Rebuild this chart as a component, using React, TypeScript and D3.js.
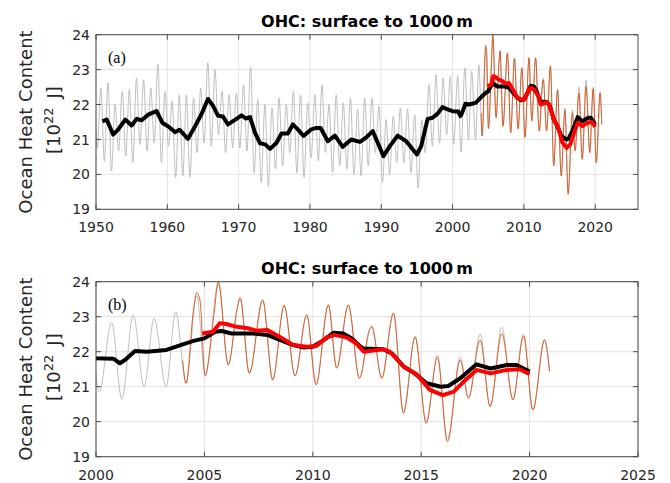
import React from 'react';
import * as d3 from 'd3';

// Monthly OHC (all data), read as annual troughs/peaks [year, 10^22 J]
const grayMonthly: [number, number][] = [
  [1950.0, 21.3], [1950.17, 20.75], [1950.68, 22.47],
  [1951.17, 20.38], [1951.68, 22.62], [1952.17, 20.1], [1952.68, 22.0],
  [1953.17, 20.67], [1953.68, 22.38], [1954.17, 20.53], [1954.68, 22.43],
  [1955.17, 20.34], [1955.68, 22.76], [1956.17, 20.86], [1956.68, 22.71],
  [1957.17, 20.67], [1957.68, 22.47], [1958.17, 20.9], [1958.68, 23.15],
  [1959.17, 20.34], [1959.68, 22.38], [1960.17, 20.81], [1960.68, 22.1],
  [1961.17, 19.91], [1961.68, 22.28], [1962.17, 19.96], [1962.68, 22.28],
  [1963.17, 19.91], [1963.68, 22.19], [1964.17, 20.62], [1964.68, 22.47],
  [1965.17, 20.9], [1965.68, 23.2], [1966.17, 20.81], [1966.68, 23.0],
  [1967.17, 21.14], [1967.68, 22.38], [1968.17, 20.62], [1968.68, 22.28],
  [1969.17, 20.76], [1969.68, 22.33], [1970.17, 20.76], [1970.68, 22.57],
  [1971.17, 20.67], [1971.68, 23.08], [1972.17, 20.05], [1972.68, 22.14],
  [1973.17, 19.77], [1973.68, 22.0], [1974.17, 19.67], [1974.68, 21.9],
  [1975.17, 20.15], [1975.68, 22.19], [1976.17, 20.24], [1976.68, 22.0],
  [1977.17, 20.62], [1977.68, 22.38], [1978.17, 20.05], [1978.68, 22.28],
  [1979.17, 19.91], [1979.68, 22.05], [1980.17, 20.48], [1980.68, 22.28],
  [1981.17, 20.38], [1981.68, 22.57], [1982.17, 20.62], [1982.68, 22.0],
  [1983.17, 20.05], [1983.68, 22.28], [1984.17, 20.24], [1984.68, 22.05],
  [1985.17, 20.15], [1985.68, 22.19], [1986.17, 20.0], [1986.68, 21.86],
  [1987.17, 19.96], [1987.68, 22.19], [1988.17, 20.24], [1988.68, 22.19],
  [1989.17, 20.62], [1989.68, 21.95], [1990.17, 19.77], [1990.68, 21.57],
  [1991.17, 20.0], [1991.68, 21.66], [1992.17, 20.34], [1992.68, 21.9],
  [1993.17, 20.34], [1993.68, 21.87], [1994.17, 20.05], [1994.68, 21.71],
  [1995.17, 19.62], [1995.68, 21.57], [1996.17, 20.62], [1996.68, 22.57],
  [1997.17, 20.81], [1997.68, 22.85], [1998.17, 20.9], [1998.68, 22.76],
  [1999.17, 21.14], [1999.68, 22.8], [2000.15, 20.86], [2000.72, 22.83],
  [2001.19, 20.64], [2001.72, 23.05], [2002.22, 21.0], [2002.68, 22.95],
  [2003.23, 21.0], [2003.68, 23.14], [2004.15, 21.1], [2004.65, 23.6],
  [2005.03, 21.35], [2005.64, 23.95], [2006.1, 21.65], [2006.65, 23.5],
  [2007.07, 21.4], [2007.69, 23.45], [2008.15, 21.22], [2008.68, 23.3],
  [2009.18, 21.3], [2009.72, 23.05], [2010.15, 21.1], [2010.72, 23.35],
  [2011.1, 21.55], [2011.64, 23.35], [2012.15, 21.25], [2012.72, 22.75],
  [2013.18, 21.25], [2013.72, 23.1], [2014.18, 20.3], [2014.72, 22.45],
  [2015.23, 20.0], [2015.75, 21.9], [2016.21, 19.5], [2016.8, 21.85],
  [2017.18, 20.7], [2017.72, 22.5], [2018.18, 20.45], [2018.72, 22.7],
  [2019.23, 20.65], [2019.72, 22.5], [2020.15, 20.35], [2020.69, 22.35],
  [2020.92, 21.45],
];

// Monthly OHC (Argo period)
const orangeArgo: [number, number][] = [
  [2004.0, 21.75], [2004.15, 21.1], [2004.5, 23.2], [2004.65, 23.69], [2004.8, 23.45],
  [2005.03, 21.31], [2005.45, 23.1], [2005.64, 24.0], [2006.1, 21.62], [2006.5, 23.2],
  [2006.65, 23.54], [2007.07, 21.38], [2007.69, 23.48], [2008.15, 21.19], [2008.68, 23.33],
  [2009.18, 21.31], [2009.72, 23.05], [2010.15, 21.05], [2010.72, 23.33], [2011.1, 21.53],
  [2011.64, 23.33], [2012.15, 21.24], [2012.6, 22.6], [2012.72, 22.71], [2013.18, 21.24],
  [2013.72, 23.1], [2014.18, 20.24], [2014.72, 22.41], [2015.23, 19.95], [2015.75, 21.84],
  [2016.21, 19.43], [2016.8, 21.76], [2017.18, 20.67], [2017.72, 22.33], [2018.18, 20.43],
  [2018.72, 22.52], [2019.23, 20.62], [2019.72, 22.45], [2020.15, 20.33], [2020.69, 22.33],
  [2020.92, 21.43],
];

// Smoothed (all data)
const blackSmooth: [number, number][] = [
  [1950.9, 21.52], [1951.5, 21.57], [1952.4, 21.14], [1953.1, 21.28], [1954.1, 21.57],
  [1955.0, 21.4], [1955.7, 21.59], [1956.4, 21.55], [1957.3, 21.71], [1958.5, 21.81],
  [1959.3, 21.48], [1960.1, 21.38], [1961.1, 21.21], [1961.7, 21.28], [1962.9, 21.02],
  [1963.9, 21.38], [1964.8, 21.73], [1965.7, 22.16], [1966.4, 21.97], [1967.1, 21.68],
  [1967.8, 21.66], [1968.5, 21.43], [1969.7, 21.59], [1970.4, 21.69], [1971.0, 21.6],
  [1971.6, 21.64], [1972.3, 21.19], [1973.0, 20.89], [1973.7, 20.86], [1974.4, 20.73],
  [1975.3, 20.9], [1976.0, 21.17], [1976.9, 21.17], [1977.6, 21.43], [1978.3, 21.29],
  [1979.1, 21.1], [1980.2, 21.29], [1980.9, 21.33], [1981.5, 21.33], [1982.5, 20.95],
  [1983.5, 21.11], [1984.6, 20.79], [1985.8, 21.0], [1987.0, 20.93], [1987.9, 21.06],
  [1988.8, 21.24], [1989.8, 20.77], [1990.3, 20.52], [1991.2, 20.81], [1992.3, 21.11],
  [1993.5, 20.95], [1994.2, 20.77], [1995.0, 20.57], [1995.6, 20.81], [1996.5, 21.59],
  [1997.2, 21.62], [1997.9, 21.74], [1998.6, 21.93], [1999.3, 21.86], [2000.0, 21.81],
  [2000.8, 21.8], [2001.1, 21.67], [2001.35, 21.77], [2001.8, 22.02], [2002.35, 22.0],
  [2003.25, 22.05], [2003.9, 22.19], [2004.5, 22.31], [2005.0, 22.38], [2005.5, 22.57],
  [2005.8, 22.59], [2006.25, 22.52], [2007.25, 22.52], [2007.9, 22.48], [2008.5, 22.33],
  [2009.1, 22.19], [2009.6, 22.12], [2010.0, 22.14], [2010.5, 22.33], [2010.95, 22.54],
  [2011.4, 22.52], [2011.8, 22.38], [2012.2, 22.14], [2012.35, 22.09], [2013.25, 22.07],
  [2013.65, 21.95], [2014.2, 21.57], [2014.7, 21.38], [2015.25, 21.1], [2015.9, 21.0],
  [2016.25, 21.02], [2016.8, 21.24], [2017.55, 21.64], [2018.2, 21.52], [2018.95, 21.62],
  [2019.4, 21.62], [2020.0, 21.43],
];

// Smoothed (Argo period)
const redSmooth: [number, number][] = [
  [2004.9, 22.52], [2005.4, 22.57], [2005.7, 22.81], [2006.0, 22.79], [2006.5, 22.71],
  [2007.0, 22.67], [2007.4, 22.6], [2007.9, 22.62], [2008.5, 22.41], [2009.1, 22.19],
  [2009.7, 22.14], [2010.15, 22.16], [2010.65, 22.41], [2011.0, 22.48], [2011.55, 22.41],
  [2012.0, 22.24], [2012.35, 22.0], [2013.25, 22.07], [2013.55, 22.0], [2014.2, 21.57],
  [2014.8, 21.35], [2015.4, 20.91], [2016.0, 20.76], [2016.5, 20.86], [2016.95, 21.14],
  [2017.55, 21.48], [2018.2, 21.38], [2018.95, 21.48], [2019.55, 21.5], [2020.0, 21.36],
];

const yTicks = [19, 20, 21, 22, 23, 24];
const xTicksA = [1950, 1960, 1970, 1980, 1990, 2000, 2010, 2020];
const xTicksB = [2000, 2005, 2010, 2015, 2020, 2025];
const titleText = 'OHC: surface to 1000\u2009m';
const yLabel1 = 'Ocean Heat Content';

const FONT = '"DejaVu Sans", Verdana, sans-serif';

type PanelProps = {
  id: string;
  tag: string;
  xDomain: [number, number];
  xTicks: number[];
  top: number;
  bottom: number;
};

const LEFT = 96;
const RIGHT = 638;

function Panel({ id, tag, xDomain, xTicks, top, bottom }: PanelProps) {
  const x = d3.scaleLinear().domain(xDomain).range([LEFT, RIGHT]);
  const y = d3.scaleLinear().domain([19, 24]).range([bottom, top]);
  const line = d3
    .line<[number, number]>()
    .x((d) => x(d[0]))
    .y((d) => y(d[1]));
  const wiggle = d3
    .line<[number, number]>()
    .x((d) => x(d[0]))
    .y((d) => y(d[1]))
    .curve(d3.curveMonotoneX);
  const axisColor = '#4a4a4a';
  const tickLen = 5;
  const clipId = `clip-${id}`;
  const midY = (top + bottom) / 2;
  return (
    <g>
      <defs>
        <clipPath id={clipId}>
          <rect x={LEFT} y={top} width={RIGHT - LEFT} height={bottom - top} />
        </clipPath>
      </defs>
      {xTicks.map((t) => (
        <line key={`gx${t}`} x1={x(t)} x2={x(t)} y1={top} y2={bottom} stroke="#e3e3e3" strokeWidth={1} />
      ))}
      {yTicks.map((t) => (
        <line key={`gy${t}`} x1={LEFT} x2={RIGHT} y1={y(t)} y2={y(t)} stroke="#e3e3e3" strokeWidth={1} />
      ))}
      <g clipPath={`url(#${clipId})`}>
        <path d={wiggle(grayMonthly) || ''} fill="none" stroke="#b8b8b8" strokeWidth={0.9} />
        <path d={wiggle(orangeArgo) || ''} fill="none" stroke="#d95319" strokeWidth={0.9} />
        <path d={line(blackSmooth) || ''} fill="none" stroke="#000" strokeWidth={4} strokeLinejoin="round" />
        <path d={line(redSmooth) || ''} fill="none" stroke="#ff0000" strokeWidth={4} strokeLinejoin="round" />
      </g>
      <rect x={LEFT} y={top} width={RIGHT - LEFT} height={bottom - top} fill="none" stroke={axisColor} strokeWidth={1} />
      {xTicks.map((t) => (
        <g key={`tx${t}`}>
          <line x1={x(t)} x2={x(t)} y1={bottom} y2={bottom - tickLen} stroke={axisColor} />
          <line x1={x(t)} x2={x(t)} y1={top} y2={top + tickLen} stroke={axisColor} />
          <text x={x(t)} y={bottom + 23} textAnchor="middle" fontFamily={FONT} fontSize={14} fill="#262626">
            {t}
          </text>
        </g>
      ))}
      {yTicks.map((t) => (
        <g key={`ty${t}`}>
          <line x1={LEFT} x2={LEFT + tickLen} y1={y(t)} y2={y(t)} stroke={axisColor} />
          <line x1={RIGHT} x2={RIGHT - tickLen} y1={y(t)} y2={y(t)} stroke={axisColor} />
          <text x={LEFT - 6} y={y(t)} dy="0.36em" textAnchor="end" fontFamily={FONT} fontSize={14} fill="#262626">
            {t}
          </text>
        </g>
      ))}
      <text x={(LEFT + RIGHT) / 2} y={top - 8} textAnchor="middle" fontFamily={FONT} fontSize={16} fontWeight="bold" fill="#000">
        {titleText}
      </text>
      <text x={108} y={top + 28} fontFamily='"Liberation Serif", "Times New Roman", serif' fontSize={16} fill="#000">
        {tag}
      </text>
      <text transform={`translate(31.5,${midY}) rotate(-90)`} textAnchor="middle" fontFamily={FONT} fontSize={18} fill="#262626">
        {yLabel1}
      </text>
      <text transform={`translate(60,${midY - 2}) rotate(-90)`} textAnchor="middle" fontFamily={FONT} fontSize={18} fill="#262626" xmlSpace="preserve">
        [10<tspan dy={-7} fontSize={13}>22</tspan><tspan dy={7}>{'\u2002'}J]</tspan>
      </text>
    </g>
  );
}

export default function App() {
  return (
    <svg width={670} height={483} viewBox="0 0 670 483" style={{ position: 'absolute', left: 0, top: 0, background: '#fff' }}>
      <rect width={670} height={483} fill="#fff" />
      <Panel id="a" tag="(a)" xDomain={[1950, 2026]} xTicks={xTicksA} top={34.7} bottom={209.3} />
      <Panel id="b" tag="(b)" xDomain={[2000, 2025]} xTicks={xTicksB} top={281.7} bottom={456.7} />
    </svg>
  );
}
